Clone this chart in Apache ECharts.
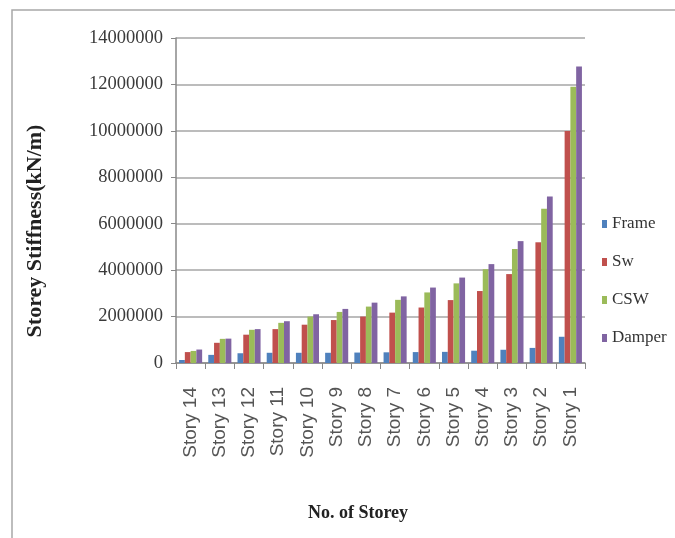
<!DOCTYPE html>
<html>
<head>
<meta charset="utf-8">
<script src="https://cdn.jsdelivr.net/npm/echarts@6/dist/echarts.min.js"></script>
<style>html,body{margin:0;padding:0;background:#fff}#c{width:675px;height:538px}</style>
</head>
<body>
<div id="c"></div>
<script>
const categories = ["Story 14","Story 13","Story 12","Story 11","Story 10","Story 9","Story 8","Story 7","Story 6","Story 5","Story 4","Story 3","Story 2","Story 1"];
const frame  = [130000, 350000, 420000, 440000, 440000, 440000, 450000, 460000, 470000, 480000, 530000, 570000, 650000, 1130000];
const sw     = [470000, 870000, 1220000, 1460000, 1650000, 1850000, 2000000, 2170000, 2390000, 2710000, 3100000, 3830000, 5200000, 9990000];
const csw    = [520000, 1040000, 1430000, 1730000, 2000000, 2200000, 2430000, 2720000, 3040000, 3430000, 4040000, 4910000, 6650000, 11900000];
const damper = [580000, 1050000, 1460000, 1800000, 2100000, 2330000, 2600000, 2870000, 3250000, 3680000, 4260000, 5250000, 7170000, 12770000];
const seriesNames = ["Frame","Sw","CSW","Damper"];
const colors = ["#4F81BD","#C0504D","#9BBB59","#8064A2"];

const chart = echarts.init(document.getElementById('c'));
const serif = "'Liberation Serif', 'Times New Roman', serif";
const mk = (name, data, i) => ({
  name, type: 'bar', data,
  itemStyle: {color: colors[i]},
  barGap: '0%', barCategoryGap: '21%'
});
chart.setOption({
  backgroundColor: '#fff',
  animation: false,
  color: colors,
  grid: {left: 176, right: 90, top: 38, bottom: 175},
  legend: {
    orient: 'vertical', left: 597, top: 209,
    itemWidth: 5, itemHeight: 8, itemGap: 18,
    icon: 'rect',
    data: seriesNames,
    textStyle: {fontFamily: serif, fontSize: 17, color: '#333', lineHeight: 20}
  },
  xAxis: {
    type: 'category', data: categories,
    axisLine: {lineStyle: {color: '#888', width: 1.5}},
    axisTick: {show: true, length: 6, lineStyle: {color: '#888'}},
    axisLabel: {rotate: 90, margin: 24, fontFamily: "'Liberation Sans', Arial, sans-serif", fontSize: 19, color: '#555'}
  },
  yAxis: {
    type: 'value', min: 0, max: 14000000, interval: 2000000,
    axisLine: {show: true, lineStyle: {color: '#888', width: 1.5}},
    axisTick: {show: true, length: 5, lineStyle: {color: '#888'}},
    splitLine: {lineStyle: {color: '#a6a6a6', width: 1.5}},
    axisLabel: {margin: 13, fontFamily: serif, fontSize: 18.5, color: '#3a3a3a', formatter: v => String(v)}
  },
  graphic: [
    {type: 'rect', shape: {x: 12, y: 10, width: 700, height: 600}, style: {fill: 'none', stroke: '#a8a8a8', lineWidth: 1.5}, silent: true},
    {type: 'text', x: 35, y: 231, rotation: Math.PI/2,
     style: {text: 'Storey Stiffness(kN/m)', fontFamily: serif, fontWeight: 'bold', fontSize: 22, fill: '#222', align: 'center', verticalAlign: 'middle'}},
    {type: 'text', x: 358, y: 513,
     style: {text: 'No. of Storey', fontFamily: serif, fontWeight: 'bold', fontSize: 18, fill: '#222', align: 'center', verticalAlign: 'middle'}}
  ],
  series: [mk('Frame', frame, 0), mk('Sw', sw, 1), mk('CSW', csw, 2), mk('Damper', damper, 3)]
});
</script>
</body>
</html>
